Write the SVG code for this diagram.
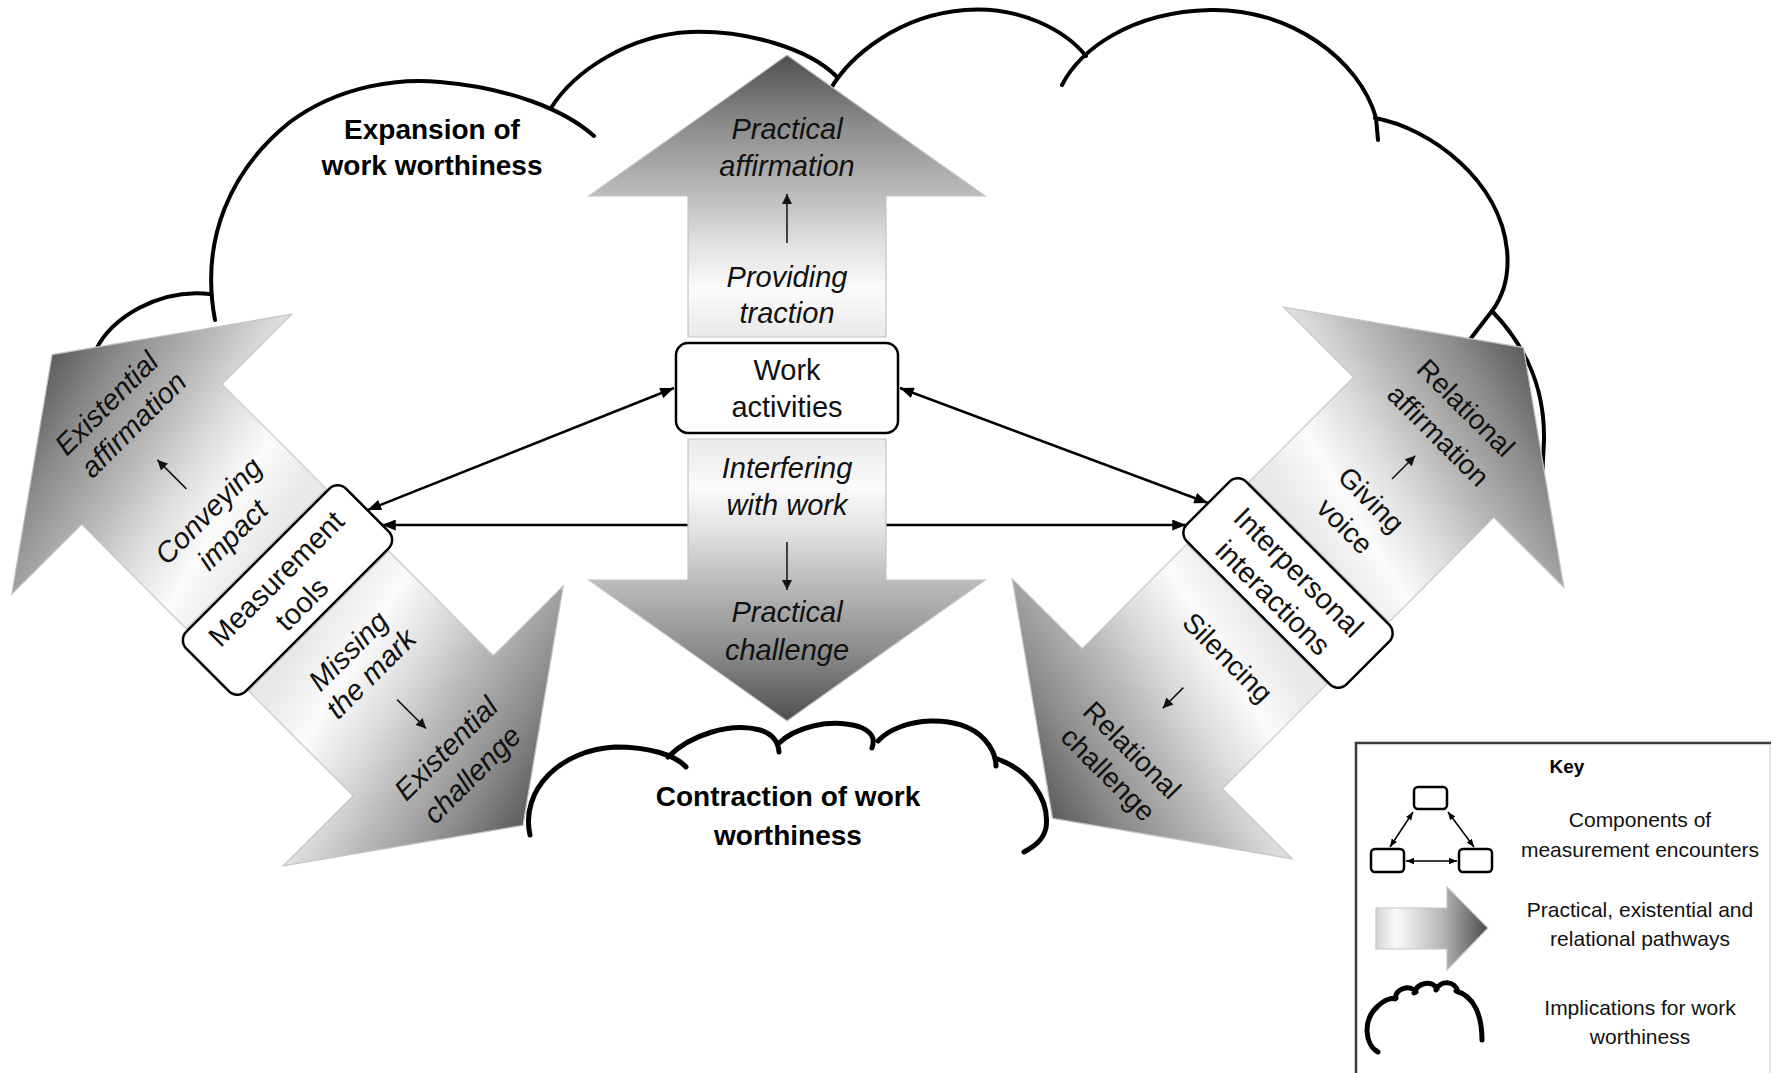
<svg xmlns="http://www.w3.org/2000/svg" xmlns:xlink="http://www.w3.org/1999/xlink" width="1773" height="1073" viewBox="0 0 1773 1073">
<style>
.cl{fill:none;stroke:#000;stroke-width:4;stroke-linecap:round}
.cl2{fill:none;stroke:#000;stroke-width:5;stroke-linecap:round}
.arr{stroke:#c4c4c4;stroke-width:1.2}
.con{stroke:#000;stroke-width:2.5;fill:none}
.sm{stroke:#111;stroke-width:1.5}
.bx{fill:#fff;stroke:#000;stroke-width:2.5}
.lbl{font-family:"Liberation Sans",Arial,sans-serif;font-size:29px;font-style:italic;text-anchor:middle;fill:#111}
.rel{font-family:"Liberation Sans",Arial,sans-serif;font-size:28px;text-anchor:middle;fill:#111}
.bt{font-family:"Liberation Sans",Arial,sans-serif;font-size:29px;text-anchor:middle;fill:#111}
.ttl{font-family:"Liberation Sans",Arial,sans-serif;font-size:28px;font-weight:bold;text-anchor:middle;fill:#000}
.kt{font-family:"Liberation Sans",Arial,sans-serif;font-size:21px;text-anchor:middle;fill:#111}
.kh{font-family:"Liberation Sans",Arial,sans-serif;font-size:19px;font-weight:bold;text-anchor:middle;fill:#000}
</style>
<defs>
<linearGradient id="gBase">
<stop offset="0" stop-color="#e9e9e9"/>
<stop offset="0.17" stop-color="#fbfbfb"/>
<stop offset="0.35" stop-color="#dddddd"/>
<stop offset="0.52" stop-color="#b9b9b9"/>
<stop offset="0.75" stop-color="#8c8c8c"/>
<stop offset="1" stop-color="#4f4f4f"/>
</linearGradient>
<linearGradient id="gVu" xlink:href="#gBase" gradientUnits="userSpaceOnUse" x1="0" y1="-51" x2="0" y2="-333"/>
<linearGradient id="gVd" xlink:href="#gBase" gradientUnits="userSpaceOnUse" x1="0" y1="51" x2="0" y2="333"/>
<linearGradient id="gEu" xlink:href="#gBase" gradientUnits="userSpaceOnUse" x1="0" y1="-44" x2="-70" y2="-333"/>
<linearGradient id="gEd" xlink:href="#gBase" gradientUnits="userSpaceOnUse" x1="0" y1="44" x2="70" y2="333"/>
<linearGradient id="gRu" xlink:href="#gBase" gradientUnits="userSpaceOnUse" x1="0" y1="-44" x2="70" y2="-333"/>
<linearGradient id="gRd" xlink:href="#gBase" gradientUnits="userSpaceOnUse" x1="0" y1="44" x2="-70" y2="333"/>
<linearGradient id="gKey" gradientUnits="userSpaceOnUse" x1="1376" y1="0" x2="1488" y2="0">
<stop offset="0" stop-color="#d4d4d4"/>
<stop offset="0.18" stop-color="#fafafa"/>
<stop offset="0.6" stop-color="#b5b5b5"/>
<stop offset="1" stop-color="#4a4a4a"/>
</linearGradient>
<marker id="ah" viewBox="0 0 10 8" refX="10" refY="4" markerWidth="14" markerHeight="11" markerUnits="userSpaceOnUse" orient="auto-start-reverse">
<path d="M0,0 L10,4 L0,8 Z" fill="#000"/>
</marker>
<marker id="ahs" viewBox="0 0 10 10" refX="10" refY="5" markerWidth="11" markerHeight="10" markerUnits="userSpaceOnUse" orient="auto-start-reverse">
<path d="M0,0 L10,5 L0,10 Z" fill="#111"/>
</marker>
<marker id="ahk" viewBox="0 0 10 8" refX="10" refY="4" markerWidth="8" markerHeight="7" markerUnits="userSpaceOnUse" orient="auto-start-reverse">
<path d="M0,0 L10,4 L0,8 Z" fill="#000"/>
</marker>
</defs>
<rect x="0" y="0" width="1773" height="1073" fill="#fff"/>

<g id="cloud-expansion">
<path class="cl" d="M96,350 C110,318 160,288 210,294"/>
<path class="cl" d="M215,320 C200,240 230,170 290,122 C340,85 400,78 440,82 C510,88 565,110 594,136"/>
<path class="cl" d="M551,108 C575,70 630,35 690,32 C750,30 810,50 836,76"/>
<path class="cl" d="M830,90 C850,55 900,15 965,10 C1020,6 1065,30 1086,56"/>
<path class="cl" d="M1062,85 C1080,50 1130,12 1210,10 C1290,8 1360,60 1376,118 L1378,140"/>
<path class="cl" d="M1375,118 C1430,128 1500,180 1507,250 C1510,280 1500,300 1492,311 L1468,342"/>
<path class="cl" d="M1492,311 C1520,340 1545,380 1544,440 L1542,480"/>
<text class="ttl" x="432" y="139">Expansion of</text>
<text class="ttl" x="432" y="175">work worthiness</text>
</g>

<g id="cloud-contraction">
<path class="cl2" d="M530,835 C520,790 560,750 615,747 C650,747 675,755 686,767"/>
<path class="cl2" d="M668,757 C690,735 730,722 760,730 C770,733 778,740 779,752"/>
<path class="cl2" d="M778,744 C795,727 830,718 860,727 C870,731 876,737 872,748"/>
<path class="cl2" d="M878,741 C900,717 960,712 985,740 C992,748 996,758 996,766"/>
<path class="cl2" d="M995,758 C1030,770 1050,800 1046,828 C1043,840 1035,846 1024,852"/>
<text class="ttl" x="788" y="806">Contraction of work</text>
<text class="ttl" x="788" y="845">worthiness</text>
</g>

<g id="connectors">
<line class="con" x1="674" y1="388" x2="367.4" y2="510.1" marker-start="url(#ah)" marker-end="url(#ah)"/>
<line class="con" x1="900" y1="388" x2="1208" y2="503" marker-start="url(#ah)" marker-end="url(#ah)"/>
<line class="con" x1="382" y1="525" x2="1186" y2="525" marker-start="url(#ah)" marker-end="url(#ah)"/>
</g>

<g id="practical-affirmation" transform="translate(787,388)">
<path class="arr" fill="url(#gVu)" d="M-99,-51 L-99,-192 L-198,-192 L0,-333 L198,-192 L99,-192 L99,-51 Z"/>
<line class="sm" x1="0" y1="-145" x2="0" y2="-194" marker-end="url(#ahs)"/>
<text class="lbl" x="0" y="-249">Practical</text>
<text class="lbl" x="0" y="-212">affirmation</text>
<text class="lbl" x="0" y="-101">Providing</text>
<text class="lbl" x="0" y="-65">traction</text>
</g>
<g id="practical-challenge" transform="translate(787,388)">
<path class="arr" fill="url(#gVd)" d="M-99,51 L-99,192 L-198,192 L0,333 L198,192 L99,192 L99,51 Z"/>
<line class="sm" x1="0" y1="154" x2="0" y2="202" marker-end="url(#ahs)"/>
<text class="lbl" x="0" y="90">Interfering</text>
<text class="lbl" x="0" y="127">with work</text>
<text class="lbl" x="0" y="234">Practical</text>
<text class="lbl" x="0" y="272">challenge</text>
</g>

<g id="existential-affirmation" transform="translate(287.5,590) rotate(-45)">
<path class="arr" fill="url(#gEu)" d="M-99,-44 L-99,-192 L-198,-192 L0,-333 L198,-192 L99,-192 L99,-44 Z"/>
<line class="sm" x1="0" y1="-143" x2="0" y2="-184" marker-end="url(#ahs)"/>
<text class="lbl" x="4" y="-250">Existential</text>
<text class="lbl" x="8" y="-216">affirmation</text>
<text class="lbl" x="0" y="-102">Conveying</text>
<text class="lbl" x="0" y="-68">impact</text>
</g>
<g id="existential-challenge" transform="translate(287.5,590) rotate(-45)">
<path class="arr" fill="url(#gEd)" d="M-99,44 L-99,192 L-198,192 L0,333 L198,192 L99,192 L99,44 Z"/>
<line class="sm" x1="0" y1="155" x2="0" y2="196" marker-end="url(#ahs)"/>
<text class="lbl" x="0" y="96">Missing</text>
<text class="lbl" x="0" y="128">the mark</text>
<text class="lbl" x="0" y="234">Existential</text>
<text class="lbl" x="0" y="271">challenge</text>
</g>

<g id="relational-affirmation" transform="translate(1288,583) rotate(45)">
<path class="arr" fill="url(#gRu)" d="M-99,-44 L-99,-192 L-198,-192 L0,-333 L198,-192 L99,-192 L99,-44 Z"/>
<line class="sm" x1="0" y1="-147" x2="0" y2="-180" marker-end="url(#ahs)"/>
<text class="rel" x="2" y="-240">Relational</text>
<text class="rel" x="2" y="-201">affirmation</text>
<text class="rel" x="0" y="-108">Giving</text>
<text class="rel" x="0" y="-71">voice</text>
</g>
<g id="relational-challenge" transform="translate(1288,583) rotate(45)">
<path class="arr" fill="url(#gRd)" d="M-99,44 L-99,192 L-198,192 L0,333 L198,192 L99,192 L99,44 Z"/>
<line class="sm" x1="0" y1="148" x2="0" y2="177" marker-end="url(#ahs)"/>
<text class="rel" x="10" y="105">Silencing</text>
<text class="rel" x="8" y="238">Relational</text>
<text class="rel" x="8" y="272">challenge</text>
</g>

<g id="work-activities">
<rect class="bx" x="676" y="343" width="222" height="90" rx="12"/>
<text class="bt" x="787" y="380">Work</text>
<text class="bt" x="787" y="417">activities</text>
</g>
<g id="measurement-tools" transform="translate(287.5,590) rotate(-45)">
<rect class="bx" x="-113" y="-42" width="226" height="84" rx="12"/>
<text class="bt" x="0" y="-6">Measurement</text>
<text class="bt" x="0" y="30">tools</text>
</g>
<g id="interpersonal-interactions" transform="translate(1288,583) rotate(45)">
<rect class="bx" x="-113" y="-42" width="226" height="84" rx="12"/>
<text class="bt" x="0" y="-5">Interpersonal</text>
<text class="bt" x="0" y="31">interactions</text>
</g>

<g id="key">
<path d="M1356,1073 L1356,743 L1771,743" fill="none" stroke="#3a3a3a" stroke-width="2.5"/>
<line x1="1770" y1="745" x2="1770" y2="1073" stroke="#dddddd" stroke-width="1.5"/>
<text class="kh" x="1567" y="773">Key</text>
<rect x="1414" y="787" width="33" height="22" rx="4" fill="#fff" stroke="#000" stroke-width="2.5"/>
<rect x="1371" y="849" width="33" height="23" rx="4" fill="#fff" stroke="#000" stroke-width="2.5"/>
<rect x="1459" y="849" width="33" height="23" rx="4" fill="#fff" stroke="#000" stroke-width="2.5"/>
<line x1="1413" y1="812" x2="1390" y2="847" stroke="#000" stroke-width="1.5" marker-start="url(#ahk)" marker-end="url(#ahk)"/>
<line x1="1448" y1="812" x2="1474" y2="847" stroke="#000" stroke-width="1.5" marker-start="url(#ahk)" marker-end="url(#ahk)"/>
<line x1="1406" y1="861" x2="1457" y2="861" stroke="#000" stroke-width="1.5" marker-start="url(#ahk)" marker-end="url(#ahk)"/>
<text class="kt" x="1640" y="827">Components of</text>
<text class="kt" x="1640" y="857">measurement encounters</text>
<path d="M1376,908 L1447,908 L1447,887 L1488,928 L1447,970 L1447,949 L1376,949 Z" fill="url(#gKey)" stroke="#c4c4c4" stroke-width="1.2"/>
<text class="kt" x="1640" y="917">Practical, existential and</text>
<text class="kt" x="1640" y="946">relational pathways</text>
<path d="M1378,1052 C1365,1045 1362,1020 1378,1006 C1384,1000 1390,998 1396,998 M1395,999 C1396,988 1410,984 1416,992 M1414,993 C1418,982 1432,980 1437,989 M1436,990 C1440,980 1455,980 1458,992 M1456,991 C1474,996 1482,1015 1482,1040" fill="none" stroke="#000" stroke-width="5" stroke-linecap="round"/>
<text class="kt" x="1640" y="1015">Implications for work</text>
<text class="kt" x="1640" y="1044">worthiness</text>
</g>
</svg>
